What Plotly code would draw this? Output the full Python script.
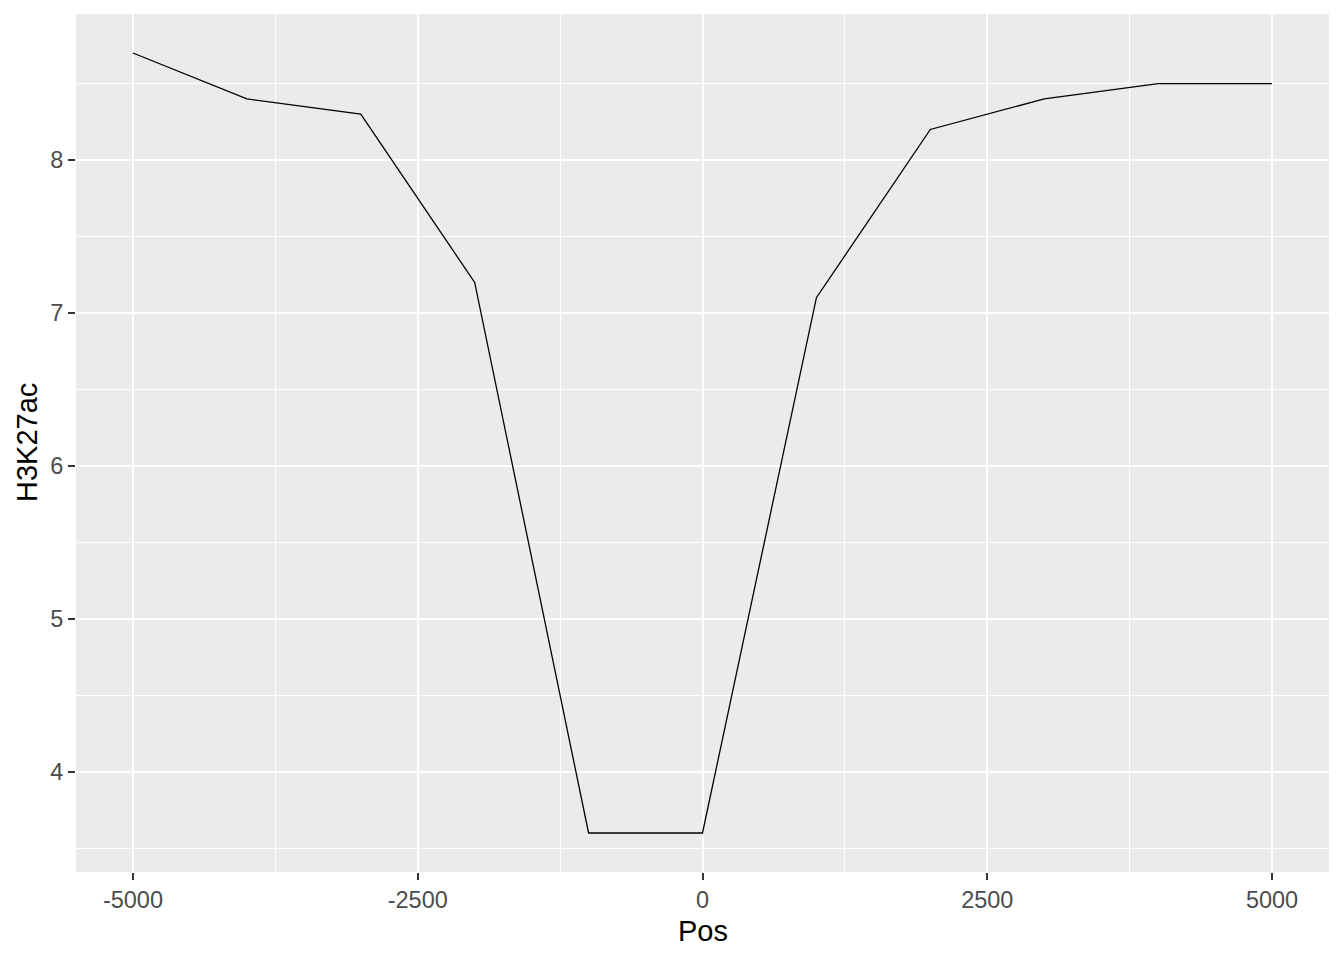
import plotly.graph_objects as go

pos = [-5000, -4000, -3000, -2000, -1000, 0, 1000, 2000, 3000, 4000, 5000]
h3k27ac = [8.7, 8.4, 8.3, 7.2, 3.6, 3.6, 7.1, 8.2, 8.4, 8.5, 8.5]

x_ticks = [-5000, -2500, 0, 2500, 5000]
y_ticks = [4, 5, 6, 7, 8]

FONT = "Liberation Sans, Arial, sans-serif"

fig = go.Figure()
fig.add_trace(go.Scatter(x=pos, y=h3k27ac, mode="lines",
                         line=dict(color="black", width=1.3), showlegend=False,
                         hoverinfo="skip"))

axis_common = dict(
    showgrid=True, gridcolor="white", gridwidth=2,
    zeroline=False, showline=False,
    ticks="outside", ticklen=7, tickwidth=1.5, tickcolor="#333333",
    tickfont=dict(family=FONT, size=23.5, color="#4D4D4D"),
)

# page body has an 8px margin, so the figure is sized/offset to compensate
fig.update_layout(
    width=1336, height=952,
    margin=dict(l=68, r=15, t=6, b=88),
    paper_bgcolor="white", plot_bgcolor="#EBEBEB",
    xaxis=dict(range=[-5500, 5500], tickmode="array", tickvals=x_ticks,
               ticktext=[str(v) for v in x_ticks],
               minor=dict(showgrid=True, gridcolor="white", gridwidth=1,
                          tick0=-1250, dtick=2500, ticks=""),
               **axis_common),
    yaxis=dict(range=[3.345, 8.955], tickmode="array", tickvals=y_ticks,
               ticktext=[str(v) for v in y_ticks],
               minor=dict(showgrid=True, gridcolor="white", gridwidth=1,
                          tick0=3.5, dtick=1, ticks=""),
               **axis_common),
    annotations=[
        dict(text="Pos", x=0.5, xref="paper", y=-0.0688, yref="paper",
             xanchor="center", yanchor="middle", showarrow=False,
             font=dict(family=FONT, size=29, color="black")),
        dict(text="H3K27ac", x=-0.0391, xref="paper", y=0.5, yref="paper",
             xanchor="center", yanchor="middle", textangle=-90, showarrow=False,
             font=dict(family=FONT, size=29, color="black")),
    ],
)

fig.write_html("out.html")
